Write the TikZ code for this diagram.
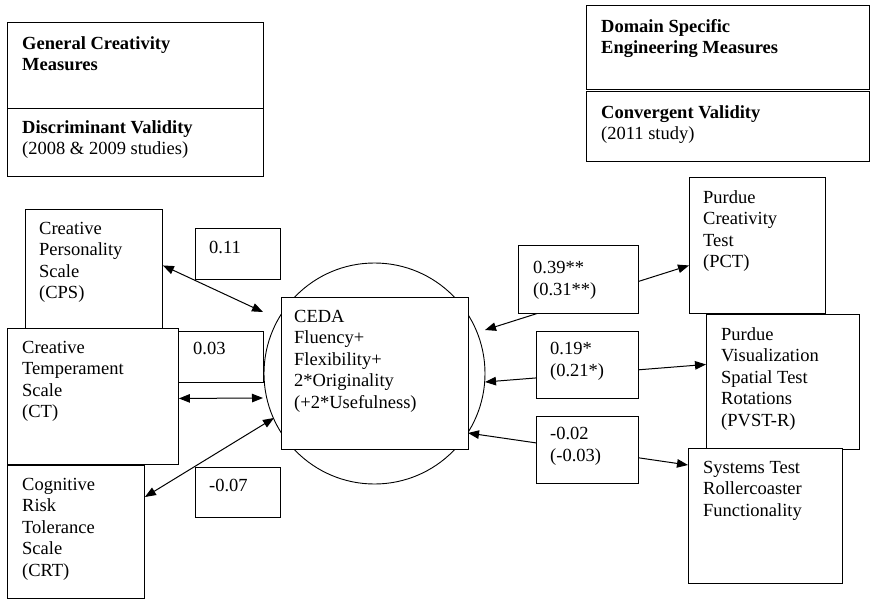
\documentclass[tikz,border=0pt]{standalone}
\usepackage{fontspec}
\setmainfont{Liberation Serif}
\usetikzlibrary{arrows.meta}
\tikzset{box/.style 2 args={draw,line width=0.9pt,fill=white,anchor=north west,inner sep=0pt,minimum width=#1,minimum height=#2},txt/.style={anchor=north west,align=left,inner sep=0pt,font=\fontsize{18.5}{21.5}\selectfont},head/.style={txt,font=\fontsize{18.5}{21.5}\selectfont\bfseries},link/.style={{Triangle[length=11pt,width=8.5pt]}-{Triangle[length=11pt,width=8.5pt]},line width=1pt}}

\begin{document}
\begin{tikzpicture}[x=1pt,y=-1pt]
\useasboundingbox (0,0) rectangle (870,599);
% header boxes
\node[box={256}{86}] (gen) at (7,22) {};
\node[box={256}{68}] (disc) at (7,108) {};
\node[head] (gen-t) at (22,36) {General Creativity\\Measures};
\node[txt] (disc-t) at (22,120) {\textbf{Discriminant Validity}\\(2008 \& 2009 studies)};
\node[box={283}{84}] (dom) at (586,5) {};
\node[box={283}{70}] (conv) at (586,91) {};
\node[head] (dom-t) at (601,19) {Domain Specific\\Engineering Measures};
\node[txt] (conv-t) at (601,105) {\textbf{Convergent Validity}\\(2011 study)};
% general measures
\node[box={137}{119}] (cps) at (25,209) {};
\node[txt] (cps-t) at (39,222) {Creative\\Personality\\Scale\\(CPS)};
\node[box={171}{136}] (ct) at (7,328) {};
\node[txt] (ct-t) at (22,341) {Creative\\Temperament\\Scale\\(CT)};
\node[box={137}{133}] (crt) at (7,465) {};
\node[txt] (crt-t) at (22,478) {Cognitive\\Risk\\Tolerance\\Scale\\(CRT)};
% CEDA
\node[draw,circle,line width=0.9pt,minimum size=221pt,inner sep=0pt] (ring) at (374.5,373.5) {};
\node[box={187}{152}] (ceda) at (281,297) {};
\node[txt] (ceda-t) at (294,310) {CEDA\\Fluency+\\Flexibility+\\2*Originality\\(+2*Usefulness)};
% engineering measures
\node[box={136}{136}] (pct) at (689,177) {};
\node[txt] (pct-t) at (703,190) {Purdue\\Creativity\\Test\\(PCT)};
\node[box={153}{135}] (pvst) at (706,314) {};
\node[txt] (pvst-t) at (721,327) {Purdue\\Visualization\\Spatial Test\\Rotations\\(PVST-R)};
\node[box={154}{135}] (sys) at (688,448) {};
\node[txt] (sys-t) at (703,461) {Systems Test\\Rollercoaster\\Functionality};
% arrow ends near CEDA
\coordinate (t1) at (263,312); \coordinate (t2) at (263,398); \coordinate (t3) at (274,418);
\coordinate (t4) at (485,330); \coordinate (t5) at (485,382); \coordinate (t6) at (468,433);
\draw[link] ([yshift=3.5pt]cps.east) -- (t1);
\draw[link] ([yshift=-2pt]ct.east) -- (t2);
\draw[link] ([yshift=-32pt]crt.north east) -- (t3);
\draw[link] (t4) -- ([yshift=-20pt]pct.west);
\draw[link] (t5) -- ([yshift=17.5pt]pvst.west);
\draw[link] (t6) -- ([yshift=-17pt]sys.north west);
% correlations
\node[box={85}{51}] (r1) at (195,228) {}; \node[txt] at (209,241) {0.11};
\node[box={85}{51}] (r2) at (178,331) {}; \node[txt] at (193,342) {0.03};
\node[box={85}{50}] (r3) at (195,467) {}; \node[txt] at (209,479) {-0.07};
\node[box={120}{68}] (r4) at (518,245) {}; \node[txt] at (533,261) {0.39**\\(0.31**)};
\node[box={102}{67}] (r5) at (536,331) {}; \node[txt] at (550,342) {0.19*\\(0.21*)};
\node[box={102}{67}] (r6) at (536,416) {}; \node[txt] at (550,427) {-0.02\\(-0.03)};
\end{tikzpicture}
\end{document}
